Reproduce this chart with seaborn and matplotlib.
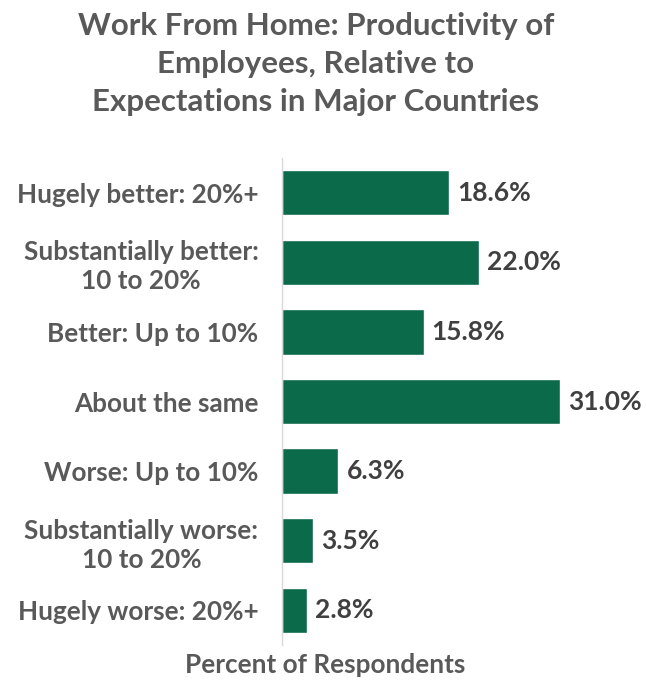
import matplotlib
matplotlib.use("Agg")
import matplotlib.pyplot as plt
import seaborn as sns
import pandas as pd

categories = [
    "Hugely better: 20%+",
    "Substantially better:\n10 to 20%",
    "Better: Up to 10%",
    "About the same",
    "Worse: Up to 10%",
    "Substantially worse:\n10 to 20%",
    "Hugely worse: 20%+",
]
values = [18.6, 22.0, 15.8, 31.0, 6.3, 3.5, 2.8]
title = "Work From Home: Productivity of\nEmployees, Relative to\nExpectations in Major Countries"
xlabel = "Percent of Respondents"

df = pd.DataFrame({"category": categories, "value": values})

sns.set_style("white")
plt.rcParams["font.family"] = ["Lato", "DejaVu Sans"]

fig = plt.figure(figsize=(6.46, 6.83), dpi=100)
ax = fig.add_axes([282/646, 1-645/683, (620-282)/646, (645-158)/683])

sns.barplot(data=df, x="value", y="category", color="#0b6a4a", saturation=1,
            width=0.65, ax=ax, orient="h")

ax.set_xlim(0, 37.7)
ax.set_ylim(6.5, -0.5)
for s in ["top", "right", "bottom"]:
    ax.spines[s].set_visible(False)
ax.spines["left"].set_color("#d9d9d9")
ax.spines["left"].set_linewidth(1)
ax.set_xticks([])
ax.set_xlabel("")
ax.set_ylabel("")
ax.tick_params(axis="y", length=0, pad=17)
for lab in ax.get_yticklabels():
    lab.set_fontsize(18.8)
    lab.set_fontweight("bold")
    lab.set_color("#595959")
    lab.set_multialignment("center")
    lab.set_linespacing(1.25)

for i, v in enumerate(values):
    ax.text(v + 0.9, i, f"{v:.1f}%", va="center", ha="left", fontsize=19,
            fontweight="bold", color="#404040")

fig.text(316/646, 1-64/683, title, ha="center", va="center", fontsize=22.5,
         fontweight="bold", color="#595959", linespacing=1.45)
fig.text(325/646, 1-665/683, xlabel, ha="center", va="center", fontsize=18.8,
         fontweight="bold", color="#595959")

fig.savefig("out.png", dpi=100)
